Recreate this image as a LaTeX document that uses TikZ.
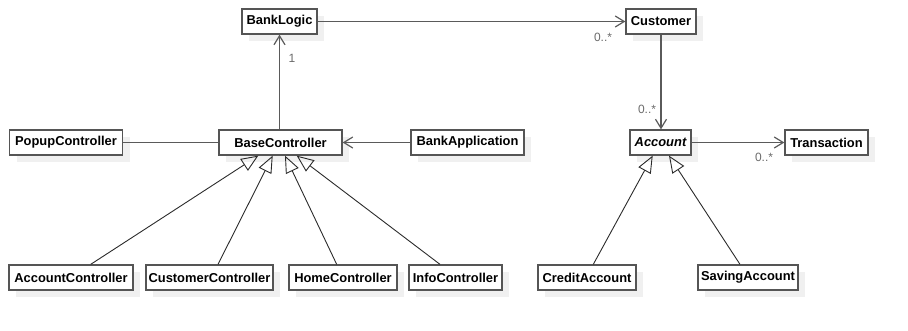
\documentclass[tikz,border=0pt]{standalone}
\usepackage{fontspec}
\setmainfont{Liberation Sans}
\usetikzlibrary{arrows.meta,shadows}
\definecolor{boxline}{HTML}{555555}
\definecolor{assocline}{HTML}{5A5A5A}
\definecolor{genline}{HTML}{2B2B2B}
\definecolor{multtext}{HTML}{6A6A6A}
\definecolor{shadowgray}{HTML}{F0F0F0}
\begin{document}
\begin{tikzpicture}[x=1pt,y=-1pt,
  cls/.style={draw=boxline, line width=1.3pt, fill=white, inner sep=0pt,
    minimum height=25pt, text=black,
    font=\fontsize{12.9}{15}\selectfont\bfseries,
    general shadow={fill=shadowgray, shadow xshift=7pt, shadow yshift=-7pt}},
  assoc/.style={draw=assocline, line width=1.3pt},
  navarrow/.style={assoc, -{Straight Barb[length=9pt,width=11pt,line width=1.2pt]}},
  generalize/.style={draw=genline, line width=0.9pt, -{Triangle[open,length=17pt,width=14pt]}},
  mult/.style={inner sep=0pt, text=multtext, font=\fontsize{12}{14}\selectfont}]
\useasboundingbox (0,0) rectangle (908,330);

% classes
\node[cls, minimum width=75]  (logic)  at (279.5,21.5)  {BankLogic};
\node[cls, minimum width=70]  (cust)   at (661,21.5)    {Customer};
\node[cls, minimum width=113] (popup)  at (66,142.5)    {PopupController};
\node[cls, minimum width=123] (base)   at (280.5,142.5) {BaseController};
\node[cls, minimum width=113] (app)    at (467.5,142.5) {BankApplication};
\node[cls, minimum width=61]  (acct)   at (660.5,142.5) {\itshape Account};
\node[cls, minimum width=83]  (trans)  at (826.5,142.5) {Transaction};
\node[cls, minimum width=124] (ac)     at (71,277.5)    {AccountController};
\node[cls, minimum width=127] (cc)     at (209.5,277.5) {CustomerController};
\node[cls, minimum width=108] (hc)     at (343,277.5)   {HomeController};
\node[cls, minimum width=93]  (ic)     at (455.5,277.5) {InfoController};
\node[cls, minimum width=98]  (credit) at (587,277.5)   {CreditAccount};
\node[cls, minimum width=100] (saving) at (748,277.5)   {SavingAccount};

% associations
\draw[navarrow] (logic.south |- base.north) -- (logic.south);
\draw[navarrow] (logic.east) -- (cust.west);
\draw[navarrow] (cust.south) -- (cust.south |- acct.north);
\draw[navarrow] (acct.east) -- (trans.west);
\draw[navarrow] (app.west) -- (base.east);
\draw[assoc] (popup.east) -- (base.west);

% multiplicities
\node[mult] (m1) at (292,58)  {1};
\node[mult] (m2) at (603,37)  {0..*};
\node[mult] (m3) at (647,109) {0..*};
\node[mult] (m4) at (764,157) {0..*};

% generalizations
\draw[generalize] ([xshift=19.7pt]ac.north) -- ([xshift=-22.2pt]base.south);
\draw[generalize] ([xshift=8.5pt]cc.north)  -- ([xshift=-7.8pt]base.south);
\draw[generalize] ([xshift=-6.3pt]hc.north) -- ([xshift=4.5pt]base.south);
\draw[generalize] ([xshift=-15.5pt]ic.north) -- ([xshift=16.2pt]base.south);
\draw[generalize] ([xshift=6.3pt]credit.north) -- ([xshift=-7.8pt]acct.south);
\draw[generalize] ([xshift=-8pt]saving.north)  -- ([xshift=8.5pt]acct.south);
\end{tikzpicture}
\end{document}
